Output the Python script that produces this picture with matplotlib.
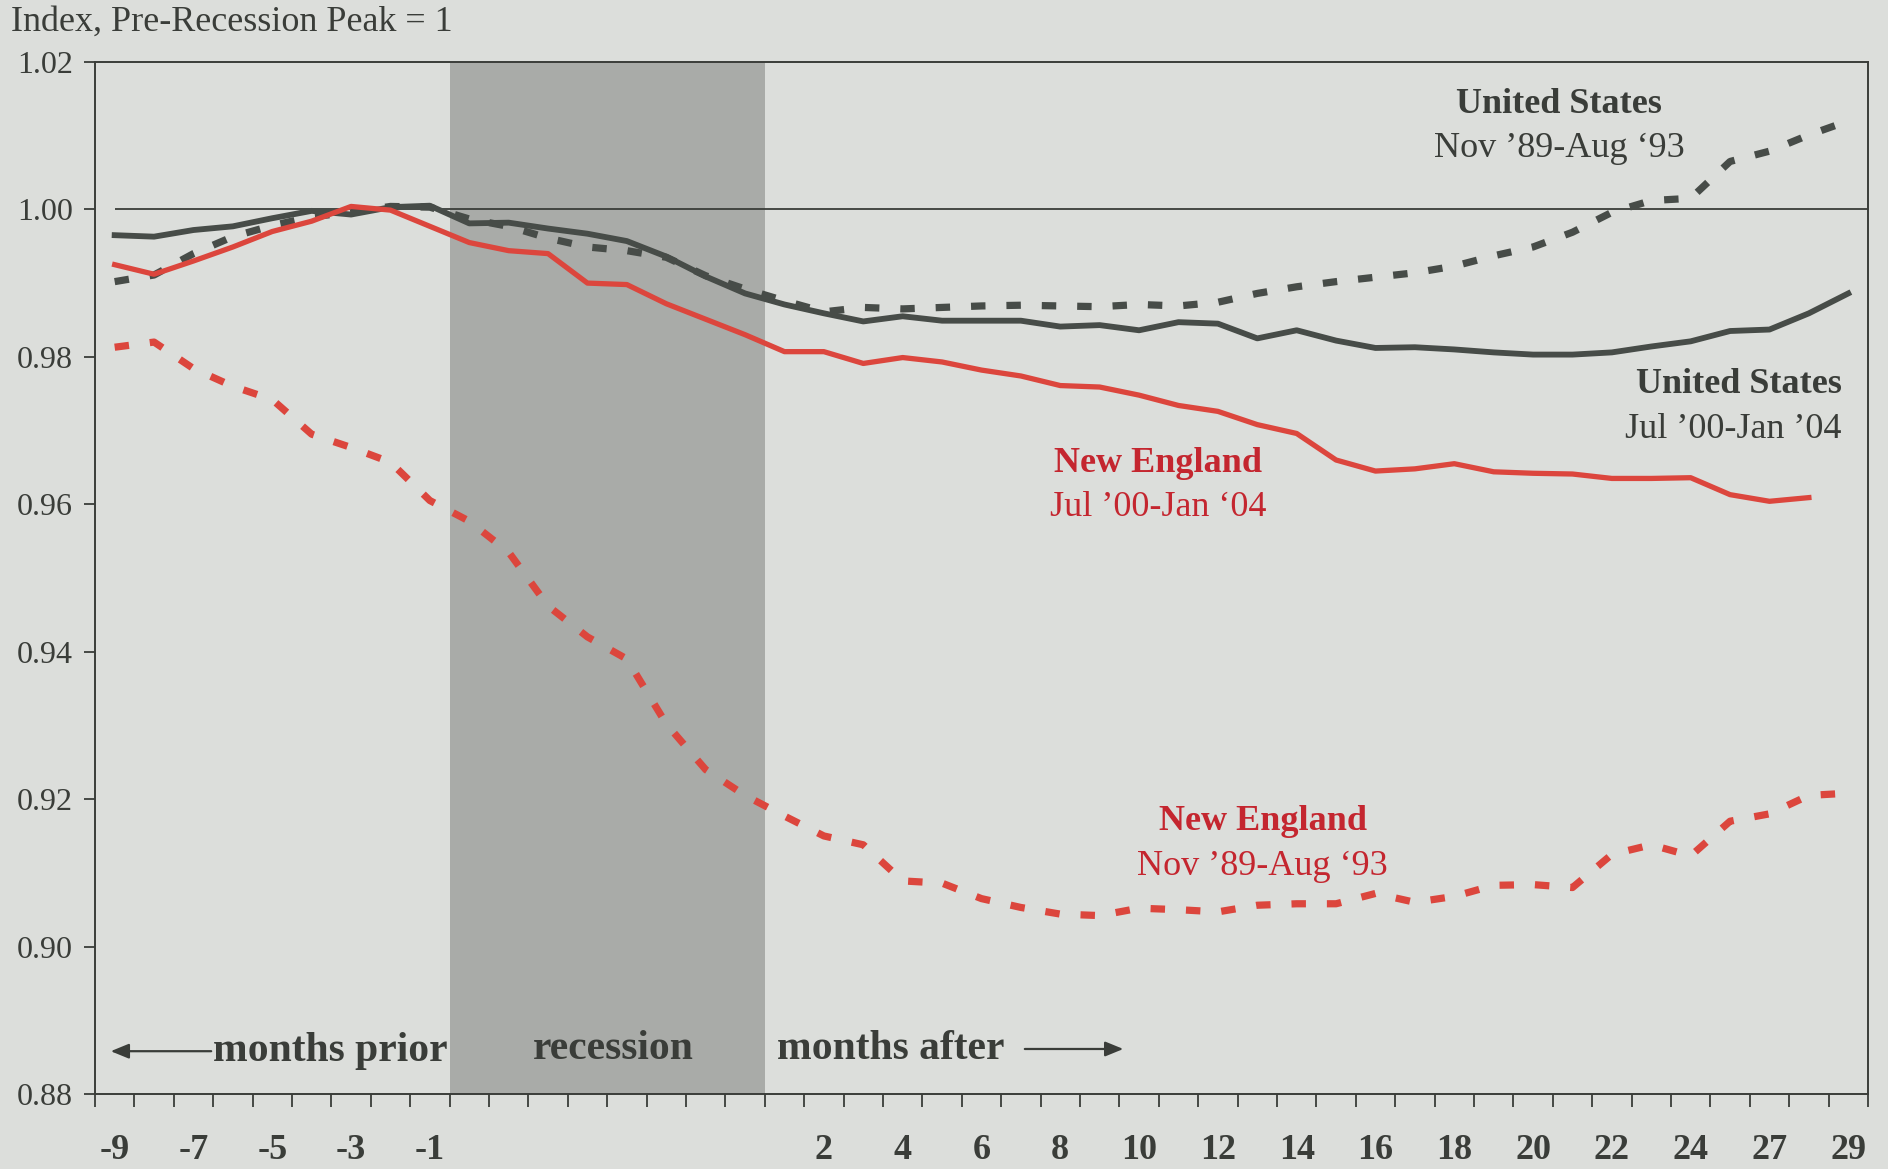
import matplotlib
matplotlib.use('Agg')
import matplotlib.pyplot as plt
import numpy as np

plt.rcParams['font.family'] = ['Liberation Serif', 'DejaVu Serif']

# months: 9 before, 8 recession months, then the months after
n_months = 45
tick_pos = [0, 2, 4, 6, 8, 18, 20, 22, 24, 26, 28, 30, 32, 34, 36, 38, 40, 42, 44]
tick_labels = ['-9', '-7', '-5', '-3', '-1', '2', '4', '6', '8', '10', '12', '14',
               '16', '18', '20', '22', '24', '27', '29']
recession_start = 9
recession_end = 17

us_2000 = [0.9965, 0.9963, 0.9972, 0.9977, 0.9988, 0.9998, 0.9993, 1.0003, 1.0005, 0.9981,
           0.9982, 0.9974, 0.9967, 0.9957, 0.9936, 0.9909, 0.9886, 0.9871, 0.9859, 0.9848,
           0.9855, 0.9849, 0.9849, 0.9849, 0.9841, 0.9843, 0.9836, 0.9847, 0.9845, 0.9825,
           0.9836, 0.9822, 0.9812, 0.9813, 0.9810, 0.9806, 0.9803, 0.9803, 0.9806, 0.9814,
           0.9821, 0.9835, 0.9837, 0.9859, 0.9886]
ne_2000 = [0.9925, 0.9912, 0.9930, 0.9949, 0.9970, 0.9984, 1.0004, 0.9999, 0.9977, 0.9955,
           0.9944, 0.9940, 0.9900, 0.9898, 0.9872, 0.9851, 0.9830, 0.9807, 0.9807, 0.9791,
           0.9799, 0.9793, 0.9782, 0.9774, 0.9761, 0.9759, 0.9748, 0.9734, 0.9726, 0.9708,
           0.9696, 0.9660, 0.9645, 0.9648, 0.9655, 0.9644, 0.9642, 0.9641, 0.9635, 0.9635,
           0.9636, 0.9613, 0.9604, 0.9609]
us_1990 = [0.9902, 0.9911, 0.9940, 0.9963, 0.9978, 0.9990, 0.9996, 1.0004, 1.0003, 0.9987,
           0.9977, 0.9961, 0.9949, 0.9944, 0.9935, 0.9910, 0.9892, 0.9876, 0.9861, 0.9867,
           0.9865, 0.9867, 0.9869, 0.9870, 0.9869, 0.9868, 0.9871, 0.9869, 0.9874, 0.9886,
           0.9895, 0.9902, 0.9908, 0.9914, 0.9923, 0.9937, 0.9949, 0.9969, 0.9996, 1.0012,
           1.0015, 1.0065, 1.0079, 1.0101, 1.0120]
ne_1990 = [0.9813, 0.9820, 0.9784, 0.9760, 0.9742, 0.9695, 0.9677, 0.9657, 0.9605, 0.9577,
           0.9535, 0.9462, 0.9420, 0.9390, 0.9302, 0.9240, 0.9205, 0.9177, 0.9150, 0.9138,
           0.9089, 0.9086, 0.9065, 0.9053, 0.9044, 0.9042, 0.9052, 0.9050, 0.9047, 0.9056,
           0.9058, 0.9058, 0.9072, 0.9060, 0.9068, 0.9083, 0.9084, 0.9080, 0.9125, 0.9138,
           0.9123, 0.9170, 0.9180, 0.9205, 0.9208]

BG = '#dcdedb'
SHADE = '#a9aba8'
GRAY = '#474c48'
RED = '#dc463d'
RED_TXT = '#c4262f'
TXT = '#3a3d39'

fig = plt.figure(figsize=(18.88, 11.69), dpi=100, facecolor=BG)
ax = fig.add_axes([0.0503, 0.0642, 0.9391, 0.8828], facecolor=BG)

ax.axvspan(recession_start - 0.5, recession_end - 0.5, color=SHADE, lw=0, zorder=0)
ax.hlines(1.0, 0, n_months - 0.5, color=TXT, lw=1.3, zorder=1)

dash = (0, (2.0, 2.9))
ax.plot(np.arange(len(us_1990)), us_1990, color=GRAY, lw=5.2, linestyle=dash,
        dash_capstyle='butt', zorder=2)
ax.plot(np.arange(len(ne_1990)), ne_1990, color=RED, lw=5.2, linestyle=dash,
        dash_capstyle='butt', zorder=2)
ax.plot(np.arange(len(us_2000)), us_2000, color=GRAY, lw=4.2, zorder=3)
ax.plot(np.arange(len(ne_2000)), ne_2000, color=RED, lw=3.8, zorder=3)

ax.set_xlim(-0.5, n_months - 0.5)
ax.set_ylim(0.88, 1.02)

for s in ax.spines.values():
    s.set_color(TXT)
    s.set_linewidth(1.4)

ax.set_yticks(np.arange(0.88, 1.021, 0.02))
ax.set_yticklabels([f'{v:.2f}' for v in np.arange(0.88, 1.021, 0.02)])
ax.tick_params(axis='y', direction='out', length=8, width=1.3, color=TXT,
               labelsize=23, labelcolor=TXT, pad=8)

ax.set_xticks(tick_pos)
ax.set_xticklabels(tick_labels, fontweight='bold')
ax.set_xticks(np.arange(-0.5, n_months, 1), minor=True)
ax.tick_params(axis='x', which='major', length=0, labelsize=26, labelcolor=TXT, pad=29)
ax.tick_params(axis='x', which='minor', direction='out', length=9, width=1.3, color=TXT)

fig.text(0.006, 0.981, 'Index, Pre-Recession Peak = 1', fontsize=26, color=TXT,
         ha='left', va='center')

# series labels
ax.text(36.66, 1.0142, 'United States', fontsize=26, fontweight='bold', color=TXT,
        ha='center', va='center')
ax.text(36.66, 1.0082, 'Nov \u201989-Aug \u201893', fontsize=26, color=TXT,
        ha='center', va='center')
ax.text(43.84, 0.9763, 'United States', fontsize=26, fontweight='bold', color=TXT,
        ha='right', va='center')
ax.text(43.84, 0.9702, 'Jul \u201900-Jan \u201904', fontsize=26, color=TXT,
        ha='right', va='center')
ax.text(26.48, 0.9655, 'New England', fontsize=26, fontweight='bold', color=RED_TXT,
        ha='center', va='center')
ax.text(26.48, 0.9595, 'Jul \u201900-Jan \u201804', fontsize=26, color=RED_TXT,
        ha='center', va='center')
ax.text(29.14, 0.9169, 'New England', fontsize=26, fontweight='bold', color=RED_TXT,
        ha='center', va='center')
ax.text(29.14, 0.9108, 'Nov \u201989-Aug \u201893', fontsize=26, color=RED_TXT,
        ha='center', va='center')

# period labels along the bottom
y_lab = 0.8858
ax.text(2.49, y_lab, 'months prior', fontsize=30, fontweight='bold', color=TXT,
        ha='left', va='center')
ax.text(12.65, y_lab + 0.0003, 'recession', fontsize=30, fontweight='bold', color=TXT,
        ha='center', va='center')
ax.text(16.81, y_lab + 0.0003, 'months after', fontsize=30, fontweight='bold', color=TXT,
        ha='left', va='center')
arrow = dict(arrowstyle='-|>,head_length=1.1,head_width=0.45', color=TXT, lw=1.6,
             shrinkA=0, shrinkB=0)
ax.annotate('', xy=(-0.1, y_lab), xytext=(2.45, y_lab), arrowprops=arrow)
ax.annotate('', xy=(25.6, y_lab + 0.0003), xytext=(23.1, y_lab + 0.0003), arrowprops=arrow)

fig.savefig('out.png', dpi=100, facecolor=BG)
